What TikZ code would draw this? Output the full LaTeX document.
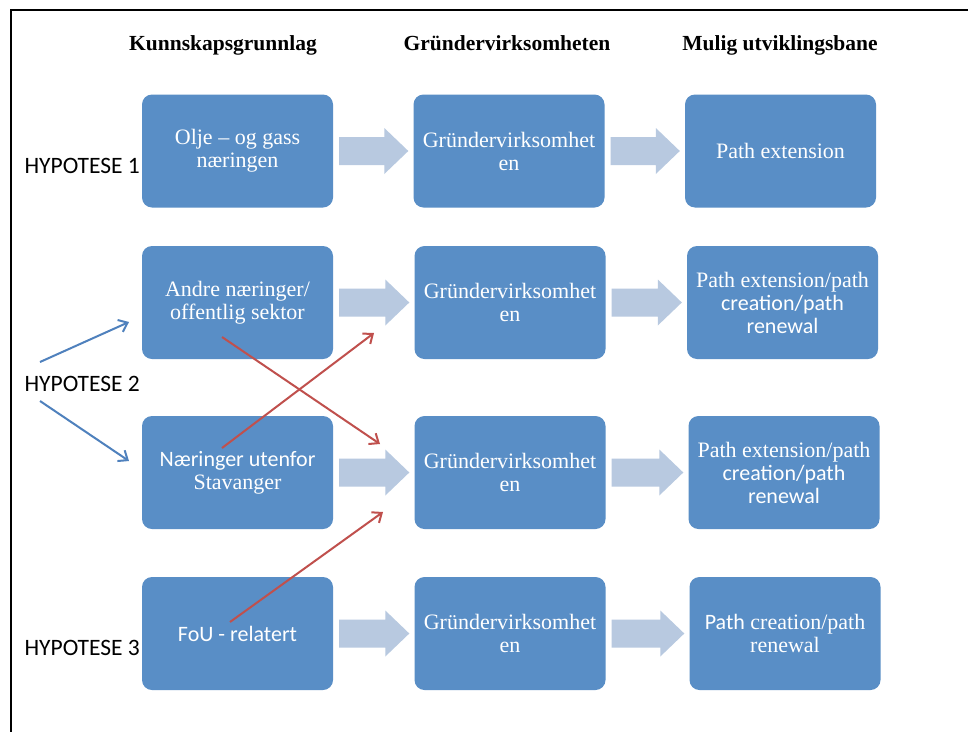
\documentclass[tikz,border=0pt]{standalone}
\usepackage{fontspec}
\setmainfont{Liberation Serif}
\newfontfamily\calfont{Carlito}
\usetikzlibrary{arrows.meta,calc}

\definecolor{boxblue}{RGB}{89,142,198}
\definecolor{arrowfill}{RGB}{184,201,224}
\definecolor{linkred}{RGB}{192,80,77}
\definecolor{linkblue}{RGB}{79,129,189}

% wide block arrow between two boxes of the same row
\newcommand\blockarr[2]{%
  \fill[arrowfill] let \p1=($(#1.east)+(6,0)$), \p2=($(#2.west)+(-5,0)$) in
    (\x1,\y1+14pt) -- (\x2-24pt,\y1+14pt) -- (\x2-24pt,\y1+23pt) -- (\x2,\y1)
    -- (\x2-24pt,\y1-23pt) -- (\x2-24pt,\y1-14pt) -- (\x1,\y1-14pt) -- cycle;}

\begin{document}
\begin{tikzpicture}[x=1pt,y=-1pt,
  box/.style={fill=boxblue, rounded corners=10pt, minimum width=191pt,
    minimum height=113pt, inner sep=0pt, text=white, align=center,
    font=\fontsize{22}{23}\selectfont},
  coltitle/.style={anchor=base, font=\fontsize{21.5}{24}\selectfont\bfseries},
  hyp/.style={anchor=base west, font=\calfont\fontsize{23.5}{26}\selectfont},
  bluelink/.style={draw=linkblue, line width=2pt, -{Straight Barb[length=8pt,width=13pt]}},
  redlink/.style={draw=linkred, line width=2pt, -{Straight Barb[length=8pt,width=13pt]}}]
\useasboundingbox (0,0) rectangle (968,731);
\fill[white] (0,0) rectangle (968,731);

% frame
\draw[line width=2.5pt] (11,740) -- (11,10) -- (980,10);

% column titles
\node[coltitle] (t1) at (223,50) {Kunnskapsgrunnlag};
\node[coltitle] (t2) at (507,50) {Gründervirksomheten};
\node[coltitle] (t3) at (780,50) {Mulig utviklingsbane};

% hypothesis labels
\node[hyp] (h1) at (21,173) {HYPOTESE 1};
\node[hyp] (h2) at (21,391) {HYPOTESE 2};
\node[hyp] (h3) at (21,655) {HYPOTESE 3};

% row 1
\node[box] (k1) at (237.5,151) {Olje – og gass\\næringen};
\node[box] (g1) at (509,151) {Gründervirksomhet\\en};
\node[box] (m1) at (780.5,151) {Path extension};
% row 2
\node[box] (k2) at (237.5,302.5) {Andre næringer/\\offentlig sektor};
\node[box] (g2) at (510,302.5) {Gründervirksomhet\\en};
\node[box] (m2) at (782.5,302.5) {Path extension/path\\{\calfont creation/path}\\{\calfont renewal}};
% row 3
\node[box] (k3) at (237.5,472.5) {{\calfont Næringer utenfor}\\Stavanger};
\node[box] (g3) at (510,472.5) {Gründervirksomhet\\en};
\node[box] (m3) at (784,472.5) {Path extension/path\\{\calfont creation/path}\\{\calfont renewal}};
% row 4
\node[box] (k4) at (237.5,633.5) {\calfont FoU - relatert};
\node[box] (g4) at (510,633.5) {Gründervirksomhet\\en};
\node[box] (m4) at (785,633.5) {{\calfont Path} creation/path\\renewal};

% block arrows
\blockarr{k1}{g1} \blockarr{g1}{m1}
\blockarr{k2}{g2} \blockarr{g2}{m2}
\blockarr{k3}{g3} \blockarr{g3}{m3}
\blockarr{k4}{g4} \blockarr{g4}{m4}

% hypothesis 2 links
\coordinate (h2up) at (40,362);
\coordinate (h2dn) at (40,401);
\coordinate (k2in) at (129,322);
\coordinate (k3in) at (129,461);
\draw[bluelink] (h2up) -- (k2in);
\draw[bluelink] (h2dn) -- (k3in);

% cross links
\coordinate (r1s) at (222,337);
\coordinate (r1e) at (380,444);
\coordinate (r2s) at (222,448);
\coordinate (r2e) at (374,333);
\coordinate (r3s) at (230,622);
\coordinate (r3e) at (383,512);
\draw[redlink] (r1s) -- (r1e);
\draw[redlink] (r2s) -- (r2e);
\draw[redlink] (r3s) -- (r3e);
\end{tikzpicture}
\end{document}
